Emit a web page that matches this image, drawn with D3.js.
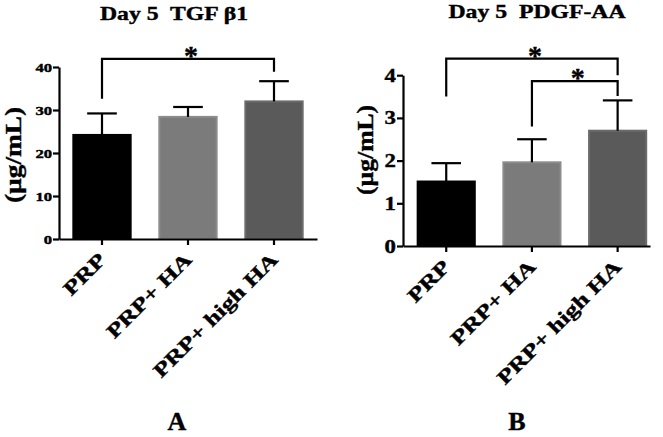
<!DOCTYPE html>
<html>
<head>
<meta charset="utf-8">
<script src="https://cdn.jsdelivr.net/npm/d3@7/dist/d3.min.js"></script>
<style>
  html, body { margin: 0; padding: 0; background: #fff; }
  svg { display: block; }
  text { font-family: "Liberation Serif", "Times New Roman", Times, serif; font-weight: bold; fill: #000; stroke: #000; stroke-width: 0.4px; white-space: pre; }
</style>
</head>
<body>
<svg id="chart" width="663" height="437"></svg>
<script>
// ---------------- data ----------------
const categories = ["PRP", "PRP+ HA", "PRP+ high HA"];
const tgfMeans = [24.2, 28.4, 32.0];
const tgfSD = [5.0, 2.3, 4.7];
const pdgfMeans = [1.51, 1.96, 2.70];
const pdgfSD = [0.43, 0.54, 0.71];
const tgfTicks = [0, 10, 20, 30, 40];
const pdgfTicks = [0, 1, 2, 3, 4];
const titles = ["Day 5  TGF \u03B21", "Day 5  PDGF-AA"];
const panelLetters = ["A", "B"];
const yLabel = "(\u00B5g/mL)";
const sigStar = "*";
// significance brackets: group indices, horizontal line value, leg end values
const tgfBrackets = [{ from: 0, to: 2, line: 41.9, leftEnd: 32.6, rightEnd: 38.9 }];
const pdgfBrackets = [
  { from: 0, to: 2, line: 4.39, leftEnd: 3.50, rightEnd: 4.00 },
  { from: 1, to: 2, line: 3.86, leftEnd: 2.80, rightEnd: 3.51 }
];
const barFills = ["#000000", "#7b7b7b", "#5a5a5a"];
const barStrokes = ["#000000", "#8c8c8c", "#6b6b6b"];

// ---------------- helpers ----------------
const svg = d3.select("#chart");
function stretch(sel, k) {
  sel.each(function () {
    const w = this.getComputedTextLength();
    d3.select(this).attr("textLength", w * k).attr("lengthAdjust", "spacingAndGlyphs");
  });
}

function drawPanel(cfg) {
  const g = svg.append("g");
  const x = d3.scaleBand().domain(categories).range([cfg.left, cfg.right])
    .paddingInner(cfg.padInner).paddingOuter(cfg.padOuter).align(cfg.align);
  const y = d3.scaleLinear().domain([0, cfg.max]).range([cfg.bottom, cfg.top]);

  // bars
  g.selectAll("rect.bar").data(cfg.means).join("rect")
    .attr("class", "bar")
    .attr("x", (d, i) => x(categories[i]) + 1)
    .attr("width", x.bandwidth() - 2)
    .attr("y", d => y(d))
    .attr("height", d => y(0) - y(d))
    .attr("fill", (d, i) => barFills[i])
    .attr("stroke", (d, i) => barStrokes[i])
    .attr("stroke-width", 2);

  // error bars (upper only)
  const cap = x.bandwidth() / 2;
  const eb = g.selectAll("g.eb").data(cfg.means).join("g").attr("class", "eb");
  eb.append("line")
    .attr("x1", (d, i) => x(categories[i]) + x.bandwidth() / 2)
    .attr("x2", (d, i) => x(categories[i]) + x.bandwidth() / 2)
    .attr("y1", d => y(d))
    .attr("y2", (d, i) => y(d + cfg.sd[i]))
    .attr("stroke", "#000").attr("stroke-width", 2.2);
  eb.append("line")
    .attr("x1", (d, i) => x(categories[i]) + x.bandwidth() / 2 - cap / 2)
    .attr("x2", (d, i) => x(categories[i]) + x.bandwidth() / 2 + cap / 2)
    .attr("y1", (d, i) => y(d + cfg.sd[i]))
    .attr("y2", (d, i) => y(d + cfg.sd[i]))
    .attr("stroke", "#000").attr("stroke-width", 2.2);

  // axes
  const yAxis = g.append("g").attr("transform", `translate(${cfg.left},0)`)
    .call(d3.axisLeft(y).tickValues(cfg.ticks).tickFormat(d3.format("d"))
      .tickSize(6).tickSizeOuter(0).tickPadding(1));
  yAxis.selectAll("text").style("font-size", cfg.tickFont + "px");
  stretch(yAxis.selectAll("text"), cfg.tickStretch);

  const xAxis = g.append("g").attr("transform", `translate(0,${cfg.bottom})`)
    .call(d3.axisBottom(x).tickSize(6).tickSizeOuter(0).tickFormat(""));
  [yAxis, xAxis].forEach(a => {
    a.select(".domain").attr("stroke", "#000").attr("stroke-width", 2.2);
    a.selectAll(".tick line").attr("stroke", "#000").attr("stroke-width", 2.2);
  });

  // x labels (rotated)
  const xl = g.selectAll("text.xl").data(categories).join("text")
    .attr("class", "xl")
    .attr("text-anchor", "end")
    .style("font-size", "20px")
    .attr("transform", d => `translate(${x(d) + x.bandwidth() / 2 + cfg.xlDx},${cfg.bottom + cfg.xlDy}) rotate(-45)`)
    .text(d => d);
  stretch(xl, 1.3);

  // y label
  g.append("text")
    .attr("text-anchor", "middle")
    .style("font-size", cfg.yLabelFont + "px")
    .attr("transform", `translate(${cfg.yLabelX},${cfg.yLabelY}) rotate(-90)`)
    .text(yLabel)
    .attr("textLength", cfg.yLabelLen).attr("lengthAdjust", "spacingAndGlyphs");

  // title
  g.append("text").attr("text-anchor", "middle")
    .style("font-size", "19px")
    .attr("x", cfg.titleX).attr("y", cfg.titleY)
    .text(cfg.title)
    .attr("textLength", cfg.titleLen).attr("lengthAdjust", "spacingAndGlyphs");

  // panel letter
  g.append("text").attr("text-anchor", "middle")
    .style("font-size", "26px")
    .attr("x", cfg.letterX).attr("y", 430)
    .text(cfg.letter);

  // significance brackets
  cfg.brackets.forEach(b => {
    const xa = x(categories[b.from]) + x.bandwidth() / 2;
    const xb = x(categories[b.to]) + x.bandwidth() / 2;
    const path = d3.path();
    path.moveTo(xa, y(b.leftEnd));
    path.lineTo(xa, y(b.line));
    path.lineTo(xb, y(b.line));
    path.lineTo(xb, y(b.rightEnd));
    g.append("path").attr("d", path.toString())
      .attr("fill", "none").attr("stroke", "#000").attr("stroke-width", 2.2);
    g.append("text").attr("text-anchor", "middle")
      .style("font-size", "28px")
      .attr("x", (xa + xb) / 2 + 3).attr("y", y(b.line) + 6)
      .text(sigStar);
  });
}

drawPanel({
  left: 59, right: 317, top: 67, bottom: 239, max: 40,
  padInner: 0.31, padOuter: 0.155, align: 0.5,
  means: tgfMeans, sd: tgfSD, ticks: tgfTicks,
  tickFont: 12.5, tickStretch: 1.33,
  xlDx: 5, xlDy: 22,
  yLabelFont: 24, yLabelX: 21, yLabelY: 155, yLabelLen: 96,
  title: titles[0], titleX: 174, titleY: 20, titleLen: 148,
  letter: panelLetters[0], letterX: 177,
  brackets: tgfBrackets
});
drawPanel({
  left: 403, right: 650, top: 75.2, bottom: 246, max: 4,
  padInner: 0.31, padOuter: 0.096, align: 0.83,
  means: pdgfMeans, sd: pdgfSD, ticks: pdgfTicks,
  tickFont: 19, tickStretch: 1.2,
  xlDx: 5, xlDy: 22,
  yLabelFont: 24, yLabelX: 373, yLabelY: 150, yLabelLen: 90,
  title: titles[1], titleX: 537, titleY: 17.5, titleLen: 177,
  letter: panelLetters[1], letterX: 517,
  brackets: pdgfBrackets
});
</script>
</body>
</html>
